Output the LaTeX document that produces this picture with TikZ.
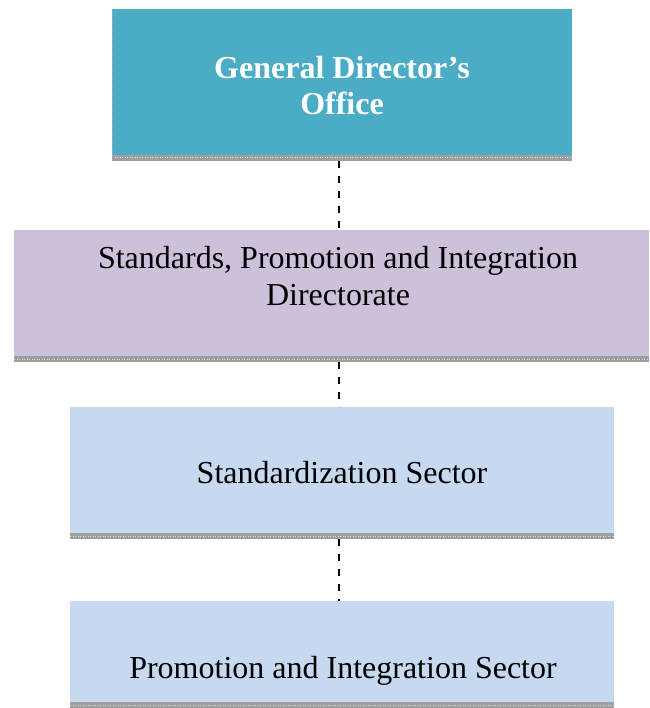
\documentclass[tikz,border=0pt]{standalone}
\usepackage{fontspec}
\setmainfont{Liberation Serif}
\definecolor{tealbox}{HTML}{4BACC6}
\definecolor{lavbox}{HTML}{CCC0DA}
\definecolor{bluebox}{HTML}{C6D9F1}
\begin{document}
\begin{tikzpicture}[x=1pt,y=-1pt,
  box/.style={rectangle, draw=none, inner sep=0pt, outer sep=0pt},
  lbl/.style={inner sep=0pt, outer sep=0pt, align=center, anchor=base,
    font=\fontsize{32}{36}\selectfont},
  conn/.style={draw=black, line width=2.2pt, dash pattern=on 7pt off 8pt}]
\useasboundingbox (0,0) rectangle (649,708);
% boxes
\node[box, fill=tealbox, minimum width=460pt, minimum height=152pt] (gdo) at (342,85) {};
\node[box, fill=lavbox, minimum width=635pt, minimum height=132pt] (spid) at (331.5,296) {};
\node[box, fill=bluebox, minimum width=544pt, minimum height=132pt] (ss) at (342,473) {};
\node[box, fill=bluebox, minimum width=544pt, minimum height=107pt] (pis) at (342,654.5) {};
% hatched bottom bands
\foreach \b in {gdo,spid,ss,pis}{
  \fill[gray!75] (\b.south west) rectangle ([yshift=6pt]\b.south east);
  \draw[gray!25, line width=1pt, dash pattern=on 1pt off 1.5pt]
    ([yshift=3pt]\b.south west) -- ([yshift=3pt]\b.south east);
}
\draw[gray!60, line width=0.8pt, dash pattern=on 1pt off 1pt] (gdo.north west) -- (gdo.south west);
% texts
\node[lbl, text=white, font=\bfseries\fontsize{32}{36}\selectfont] (t1) at (342,115) {General Director’s\\Office};
\node[lbl] (t2) at (338,305) {Standards, Promotion and Integration\\Directorate};
\node[lbl] (t3) at (342,483) {Standardization Sector};
\node[lbl] (t4) at (343,678) {Promotion and Integration Sector};
% connectors
\coordinate (cx) at (339,0);
\draw[conn] (gdo.south -| cx) -- (spid.north -| cx);
\draw[conn] (spid.south -| cx) -- (ss.north -| cx);
\draw[conn] (ss.south -| cx) -- (pis.north -| cx);
\end{tikzpicture}
\end{document}
